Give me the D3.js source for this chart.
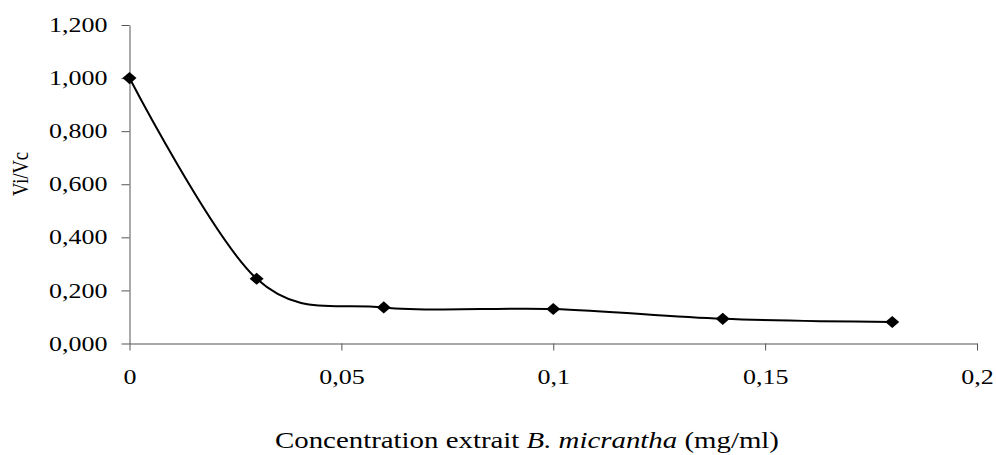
<!DOCTYPE html>
<html>
<head>
<meta charset="utf-8">
<script src="https://cdn.jsdelivr.net/npm/d3@7"></script>
<style>
  html, body { margin: 0; padding: 0; background: #fff; }
  svg { display: block; }
  text { font-family: "Liberation Serif", "Times New Roman", serif; fill: #000; }
</style>
</head>
<body>
<svg id="chart" width="996" height="455"></svg>
<script>
// Inhibition ratio Vi/Vc versus extract concentration
const concentrations = [0, 0.03, 0.06, 0.1, 0.14, 0.18];
const ratios = [1.000, 0.244, 0.136, 0.130, 0.093, 0.081];
const xTickValues = [0, 0.05, 0.1, 0.15, 0.2];
const xTickLabels = ["0", "0,05", "0,1", "0,15", "0,2"];
const yTickValues = [0, 0.2, 0.4, 0.6, 0.8, 1.0, 1.2];
const yTickLabels = ["0,000", "0,200", "0,400", "0,600", "0,800", "1,000", "1,200"];

const points = concentrations.map((c, i) => ({ x: c, y: ratios[i] }));

const svg = d3.select("#chart");
const stretch = 1.3;          // horizontal text widening
const axisColor = "#555";

const x = d3.scaleLinear().domain([0, 0.2]).range([129.5, 977]);
const y = d3.scaleLinear().domain([0, 1.2]).range([343.5, 25]);

// Y axis
const yAxis = svg.append("g")
  .attr("transform", `translate(${x(0)},0)`)
  .call(d3.axisLeft(y).tickValues(yTickValues)
    .tickFormat((d, i) => yTickLabels[i]).tickSize(8).tickSizeOuter(0).tickPadding(14));
yAxis.select(".domain").attr("stroke", axisColor);
yAxis.selectAll(".tick line").attr("stroke", axisColor);
yAxis.selectAll(".tick text")
  .attr("font-size", 20)
  .attr("font-family", "Liberation Serif")
  .attr("x", -22 / stretch)
  .attr("dy", "0.33em")
  .attr("transform", `scale(${stretch},1)`);

// X axis
const xAxis = svg.append("g")
  .attr("transform", `translate(0,${y(0)})`)
  .call(d3.axisBottom(x).tickValues(xTickValues)
    .tickFormat((d, i) => xTickLabels[i]).tickSize(7).tickSizeOuter(0));
xAxis.select(".domain").attr("stroke", axisColor);
xAxis.selectAll(".tick line").attr("stroke", axisColor);
xAxis.selectAll(".tick text")
  .attr("font-size", 20)
  .attr("font-family", "Liberation Serif")
  .attr("y", 41)
  .attr("dy", 0)
  .attr("transform", `scale(${stretch},1)`);

// Smoothed series line
const line = d3.line()
  .x(d => x(d.x))
  .y(d => y(d.y))
  .curve(d3.curveCardinal.tension(0));

svg.append("path")
  .datum(points)
  .attr("fill", "none")
  .attr("stroke", "#000")
  .attr("stroke-width", 2)
  .attr("d", line);

// Diamond markers
svg.append("g").selectAll("path")
  .data(points)
  .join("path")
  .attr("d", d3.symbol(d3.symbolSquare, 74)())
  .attr("transform", d => `translate(${x(d.x)},${y(d.y)}) scale(1.15,1) rotate(45)`)
  .attr("fill", "#000");

// Axis titles
const xTitle = svg.append("text")
  .attr("transform", `translate(527,448) scale(${stretch},1)`)
  .attr("text-anchor", "middle")
  .attr("font-size", 22.2);
xTitle.append("tspan").text("Concentration extrait ");
xTitle.append("tspan").attr("font-style", "italic").text("B. micrantha");
xTitle.append("tspan").text(" (mg/ml)");

svg.append("text")
  .attr("transform", `translate(28,174) scale(${stretch},1) rotate(-90)`)
  .attr("text-anchor", "middle")
  .attr("font-size", 18.5)
  .text("Vi/Vc");
</script>
</body>
</html>
